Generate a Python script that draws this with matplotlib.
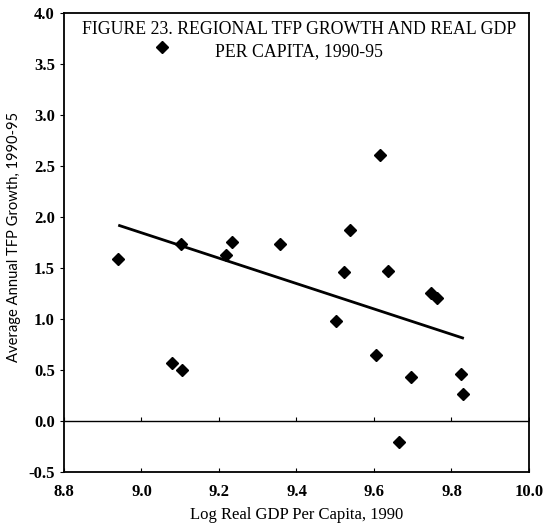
import matplotlib
matplotlib.use("Agg")
import matplotlib.pyplot as plt
import numpy as np

# Data
log_gdp = [8.94, 9.054, 9.079, 9.102, 9.105, 9.217, 9.233, 9.357,
           9.501, 9.523, 9.538, 9.606, 9.615, 9.636, 9.665, 9.695,
           9.746, 9.763, 9.825, 9.830]
tfp_growth = [1.59, 3.67, 0.57, 1.74, 0.50, 1.63, 1.75, 1.74,
              0.98, 1.46, 1.87, 0.65, 2.61, 1.47, -0.21, 0.43,
              1.25, 1.21, 0.46, 0.26]
trend_x = [8.94, 9.832]
trend_y = [1.92, 0.81]

x_ticks = [8.8, 9.0, 9.2, 9.4, 9.6, 9.8, 10.0]
y_ticks = [-0.5, 0.0, 0.5, 1.0, 1.5, 2.0, 2.5, 3.0, 3.5, 4.0]

title = "FIGURE 23. REGIONAL TFP GROWTH AND REAL GDP\nPER CAPITA, 1990-95"
xlabel = "Log Real GDP Per Capita, 1990"
ylabel = "Average Annual TFP Growth, 1990-95"

plt.rcParams['font.family'] = ['Liberation Serif', 'DejaVu Serif']

fig = plt.figure(figsize=(5.47, 5.27), dpi=100)
ax = fig.add_axes([0.117, 0.1044, 0.850, 0.8709])

ax.plot(trend_x, trend_y, color='black', lw=2.0, solid_capstyle='butt', zorder=2)
ax.plot(log_gdp, tfp_growth, linestyle='none', marker='D', ms=6,
        color='black', zorder=3)

ax.axhline(0, color='black', lw=1.0, zorder=1)
ax.plot(x_ticks, [0] * len(x_ticks), linestyle='none', marker=2, ms=3,
        color='black', mew=0.8)

ax.set_xlim(8.8, 10.0)
ax.set_ylim(-0.5, 4.0)
ax.set_xticks(x_ticks)
ax.set_yticks(y_ticks)
ax.set_xticklabels([f"{v:.1f}" for v in x_ticks], fontsize=12, fontweight='bold')
ax.set_yticklabels([f"{v:.1f}" for v in y_ticks], fontsize=12, fontweight='bold')
ax.tick_params(axis='x', direction='in', length=3, width=0.8, pad=9)
ax.tick_params(axis='y', direction='out', length=3, width=0.8, pad=3.5)

for s in ax.spines.values():
    s.set_linewidth(1.3)

ax.set_xlabel(xlabel, fontsize=12, labelpad=5)
ax.set_ylabel(ylabel, fontsize=10.6, family=['Lato', 'DejaVu Sans'])
ax.yaxis.set_label_coords(-0.092, 0.512)

ax.text(0.505, 0.982, title, transform=ax.transAxes, ha='center', va='top',
        fontsize=12.8, linespacing=1.35)

fig.savefig("out.png", dpi=100)
